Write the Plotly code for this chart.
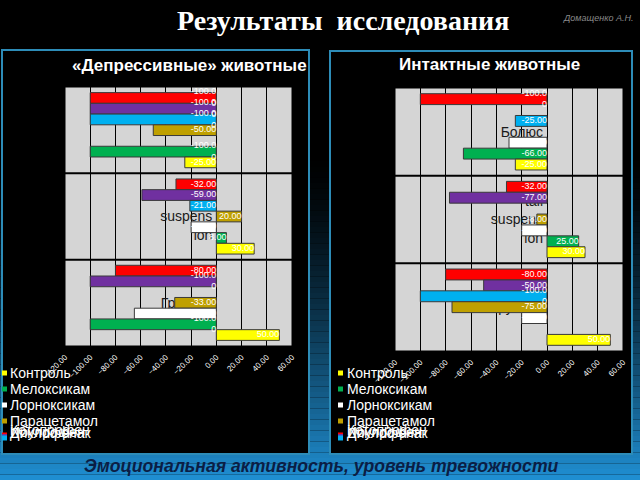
import plotly.graph_objects as go

# ---------------- data ----------------
categories = ["Болюс", "tail<br>suspens<br>ion", "Груминг"]
series_names = ["Кетопрофен", "Ибупрофен", "Диклофенак", "Парацетамол",
                "Лорноксикам", "Мелоксикам", "Контроль"]
series_colors = ["#ff0000", "#7030a0", "#00b0f0", "#bfa000",
                 "#ffffff", "#00b050", "#ffff00"]

# values per series (same order as series_names), per category
depressive_values = [
    [-100, -32, -80],
    [-100, -59, -100],
    [-100, -21, None],
    [-50, 20, -33],
    [None, -20, -65],
    [-100, 8, -100],
    [-25, 30, 50],
]
intact_values = [
    [-100, -32, -80],
    [None, -77, -50],
    [-25, None, -100],
    [None, -8, -75],
    [-30, -20, -20],
    [-66, 25, None],
    [-25, 30, 50],
]
legend_rows = ["Контроль", "Мелоксикам", "Лорноксикам", "Парацетамол"]
legend_overlap = ["Кетопрофен", "Ибупрофен", "Диклофенак"]

x_range = [-120, 60]
x_step = 20

W, H = 640, 480
FONT = "Liberation Sans"


def px_x(x):
    return x / W


def px_y(y):
    return 1 - y / H


def label_text(v):
    s = f"{v:.2f}"
    return s if len(s) <= 6 else s[:6] + "<br>" + s[6:]


charts = [
    dict(values=depressive_values, xa="x", ya="y", xdom=[px_x(65), px_x(292)],
         ydom=[px_y(346), px_y(87)]),
    dict(values=intact_values, xa="x2", ya="y2", xdom=[px_x(395), px_x(623)],
         ydom=[px_y(351), px_y(88)]),
]

fig = go.Figure()
shapes = []
annotations = []

# background glow (blue at bottom)
n_bands = 60
y_start = 150
for i in range(n_bands):
    y0 = y_start + (H - y_start) * i / n_bands
    y1 = y_start + (H - y_start) * (i + 1) / n_bands
    t = (i + 0.5) / n_bands
    t2 = t ** 1.5
    r, g, b = int(0x20 * t2), int(0x90 * t2), int(0xd4 * t2)
    shapes.append(dict(type="rect", xref="paper", yref="paper",
                       x0=0, x1=1, y0=px_y(y1), y1=px_y(y0),
                       fillcolor=f"rgb({r},{g},{b})", line=dict(width=0),
                       layer="below"))

# panels
for (x0, x1, y0, y1) in [(2, 309, 50, 454), (330, 632, 51, 454)]:
    shapes.append(dict(type="rect", xref="paper", yref="paper",
                       x0=px_x(x0), x1=px_x(x1), y0=px_y(y1), y1=px_y(y0),
                       fillcolor="black", line=dict(color="#2d8cb8", width=2),
                       layer="below"))

group_width = 0.87
n_series = len(series_names)
bar_w = group_width / n_series

layout_axes = {}
for ci, ch in enumerate(charts):
    xa, ya = ch["xa"], ch["ya"]
    for k, (name, color) in enumerate(zip(series_names, series_colors)):
        xs, ys = [], []
        for g, v in enumerate(ch["values"][k]):
            if v is None:
                continue
            xs.append(v)
            ys.append(g - group_width / 2 + (k + 0.5) * bar_w)
        fig.add_trace(go.Bar(
            x=xs, y=ys, orientation="h", width=bar_w, name=name,
            marker=dict(color=color, line=dict(color="#3a3a3a", width=1)),
            xaxis=xa, yaxis=ya, showlegend=False, hoverinfo="skip"))
        fig.add_trace(go.Scatter(
            x=[max(v, 0) for v in xs], y=ys, mode="text",
            text=[label_text(v) for v in xs], textposition="middle left",
            textfont=dict(color="white", size=9, family=FONT),
            xaxis=xa, yaxis=ya, showlegend=False, hoverinfo="skip"))

    xdom, ydom = ch["xdom"], ch["ydom"]
    zero_pos = xdom[0] + (0 - x_range[0]) / (x_range[1] - x_range[0]) * (xdom[1] - xdom[0])
    xkey = "xaxis" if xa == "x" else "xaxis2"
    ykey = "yaxis" if ya == "y" else "yaxis2"
    layout_axes[xkey] = dict(
        domain=xdom, range=x_range, dtick=x_step, tick0=0, tickformat=".2f",
        tickangle=-45, tickfont=dict(color="white", size=8, family=FONT),
        showgrid=True, gridcolor="black", gridwidth=1,
        zeroline=True, zerolinecolor="black", zerolinewidth=1,
        showline=False, ticks="", anchor=ya, fixedrange=True,
        ticklabelstandoff=4)
    layout_axes[ykey] = dict(
        domain=ydom, range=[len(categories) - 0.5, -0.5],
        tickvals=list(range(len(categories))), ticktext=categories,
        anchor="free", position=zero_pos, side="left", layer="below traces",
        showgrid=False, zeroline=False, showline=False, ticks="",
        tickfont=dict(color="#1a1a1a", size=14, family=FONT),
        ticklabelstandoff=4, fixedrange=True)

    # plot area
    shapes.append(dict(type="rect", xref=f"{xa} domain", yref=f"{ya} domain",
                       x0=0, x1=1, y0=0, y1=1, fillcolor="#d5d5d5",
                       line=dict(color="black", width=1), layer="below"))
    # category separators
    for b in range(1, len(categories)):
        shapes.append(dict(type="line", xref=f"{xa} domain", yref=ya,
                           x0=0, x1=1, y0=b - 0.5, y1=b - 0.5,
                           line=dict(color="black", width=2), layer="below"))


def add_text(text, x, y, size, color, family=FONT, xanchor="center"):
    annotations.append(dict(text=text, x=px_x(x), y=px_y(y), xref="paper", yref="paper",
                            showarrow=False, xanchor=xanchor, yanchor="middle",
                            font=dict(family=family, size=size, color=color)))


# titles
add_text("<b>Результаты\u00a0\u00a0исследования</b>", 343, 21, 28, "white",
         family="Liberation Serif")
add_text("<i>Домащенко А.Н.</i>", 598, 18, 9, "#8a8a8a")
add_text("<b>«Депрессивные» животные</b>", 189, 66, 17, "white")
add_text("<b>Интактные животные</b>", 489, 65, 17, "white")
add_text("<b><i>Эмоциональная активность, уровень тревожности</i></b>", 321, 466, 17.6,
         "#0b1e45")

# legends (drawn manually; last entries overlap as in the original)
color_of = dict(zip(series_names, series_colors))
for (sq_x, tx_x) in [(2, 8), (338, 345)]:
    rows = [(name, 373 + 16 * i) for i, name in enumerate(legend_rows)]
    rows += [(name, 430 + 1.5 * i) for i, name in enumerate(legend_overlap)]
    for name, yc in rows:
        sq_y = yc + 5 if name in legend_overlap else yc
        shapes.append(dict(type="rect", xref="paper", yref="paper",
                           x0=px_x(sq_x), x1=px_x(sq_x + 5),
                           y0=px_y(sq_y + 2.5), y1=px_y(sq_y - 2.5),
                           fillcolor=color_of[name], line=dict(width=0),
                           layer="above"))
        add_text(name, tx_x, yc, 14, "white", xanchor="left")

fig.update_layout(
    template="none",
    width=W, height=H, margin=dict(l=0, r=0, t=0, b=0),
    paper_bgcolor="black", plot_bgcolor="rgba(0,0,0,0)",
    barmode="overlay", showlegend=False,
    font=dict(family=FONT),
    shapes=shapes, annotations=annotations,
    **layout_axes)

fig.write_html("out.html")
